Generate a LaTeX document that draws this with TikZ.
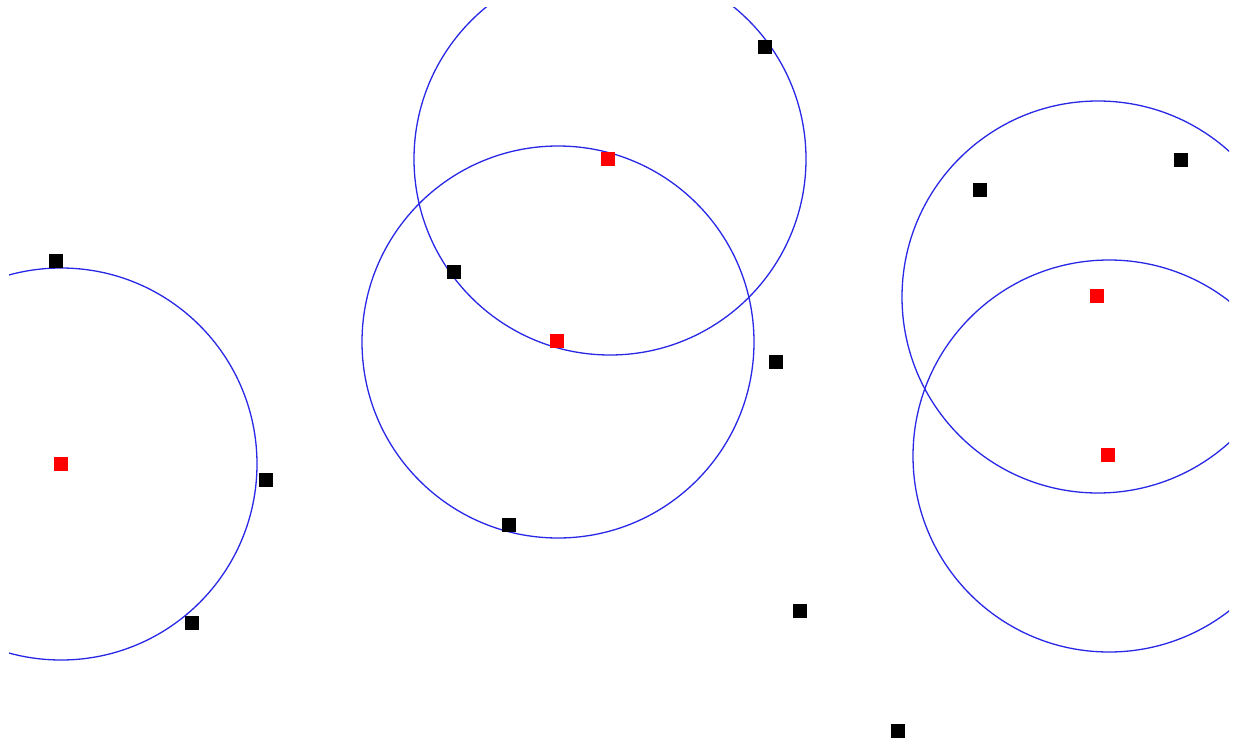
\documentclass[tikz,border=0pt]{standalone}
\begin{document}
\begin{tikzpicture}[x=1pt,y=-1pt,
  pt/.style={fill=black,minimum size=14pt,inner sep=0pt,outer sep=0pt,draw=none,rectangle},
  ctr/.style={fill=red,minimum size=14pt,inner sep=0pt,outer sep=0pt,draw=none,rectangle},
  ring/.style={draw={rgb,255:red,40;green,40;blue,230},line width=1.3pt}]
\useasboundingbox (0,0) rectangle (1236,744);
\fill[white] (0,0) rectangle (1236,744);
\begin{scope}
\clip (9,7) rectangle (1229,744);
\draw[ring] (61,464) circle (196);
\draw[ring] (610,159) circle (196);
\draw[ring] (558,342) circle (196);
\draw[ring] (1098,297) circle (196);
\draw[ring] (1109,456) circle (196);
\end{scope}
\node[ctr] (c1) at (61,464) {};
\node[ctr] (c2) at (608,159) {};
\node[ctr] (c3) at (557,341) {};
\node[ctr] (c4) at (1097,296) {};
\node[ctr] (c5) at (1108,455) {};
\node[pt] (p1) at (56,261) {};
\node[pt] (p2) at (266,480) {};
\node[pt] (p3) at (192,623) {};
\node[pt] (p4) at (454,272) {};
\node[pt] (p5) at (509,525) {};
\node[pt] (p6) at (765,47) {};
\node[pt] (p7) at (776,362) {};
\node[pt] (p8) at (800,611) {};
\node[pt] (p9) at (898,731) {};
\node[pt] (p10) at (980,190) {};
\node[pt] (p11) at (1181,160) {};
\end{tikzpicture}
\end{document}
